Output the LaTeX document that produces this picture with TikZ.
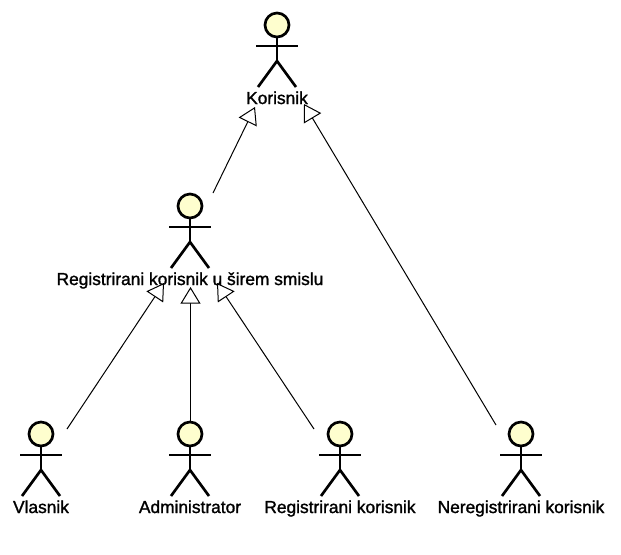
\documentclass[tikz,border=0pt]{standalone}
\usepackage{fontspec}
\setmainfont[RawFeature={embolden=1.4}]{Liberation Sans}
\usetikzlibrary{arrows.meta}

\tikzset{
	actor/.pic={
		\node (-head) [actorhead] at (0, 0) {};
		\draw [actorline] (-21, 21) -- (21, 21);
		\draw [actorline] (0, 12) -- (0, 36);
		\draw [actorline] (-19, 62) -- (0, 36) -- (19, 62);
		\node (-name) [actorname] at (0, 79) {\tikzpictext};
	},
	actorhead/.style={circle, draw=black, line width=2pt, fill=headfill, inner sep=0pt, minimum size=18pt},
	actorline/.style={draw=black, line width=2pt},
	actorname/.style={font=\fontsize{13pt}{15pt}\selectfont, text=black, inner sep=0pt, anchor=base},
	genarrow/.style={draw=black, line width=0.75pt, -{Triangle[open, fill=white, length=12.5pt, width=15pt]}}
}
\definecolor{headfill}{RGB}{254,254,206}

\begin{document}
\begin{tikzpicture}[x=0.75pt, y=-0.75pt]
  \useasboundingbox (0, 0) rectangle (621, 554);
  % actors
  \pic (korisnik) [pic text=Korisnik] at (277, 25) {actor};
  \pic (siri) [pic text={Registrirani korisnik u širem smislu}] at (190, 206) {actor};
  \pic (vlasnik) [pic text=Vlasnik] at (41, 434) {actor};
  \pic (admin) [pic text=Administrator] at (190, 434) {actor};
  \pic (registrirani) [pic text=Registrirani korisnik] at (340, 434) {actor};
  \pic (neregistrirani) [pic text=Neregistrirani korisnik] at (521, 434) {actor};
  % ends of the connectors
  \coordinate (korisnik_left) at (255, 107);
  \coordinate (korisnik_right) at (304, 104);
  \coordinate (siri_left) at (164, 283);
  \coordinate (siri_mid) at (190.5, 287);
  \coordinate (siri_right) at (217, 283);
  \coordinate (siri_from) at (213, 193);
  \coordinate (neregistrirani_from) at (496, 425);
  \coordinate (vlasnik_from) at (67, 429);
  \coordinate (admin_from) at (190.5, 422);
  \coordinate (registrirani_from) at (314, 429);
  % generalizations
  \draw [genarrow] (siri_from) -- (korisnik_left);
  \draw [genarrow] (neregistrirani_from) -- (korisnik_right);
  \draw [genarrow] (vlasnik_from) -- (siri_left);
  \draw [genarrow] (admin_from) -- (siri_mid);
  \draw [genarrow] (registrirani_from) -- (siri_right);
\end{tikzpicture}
\end{document}
